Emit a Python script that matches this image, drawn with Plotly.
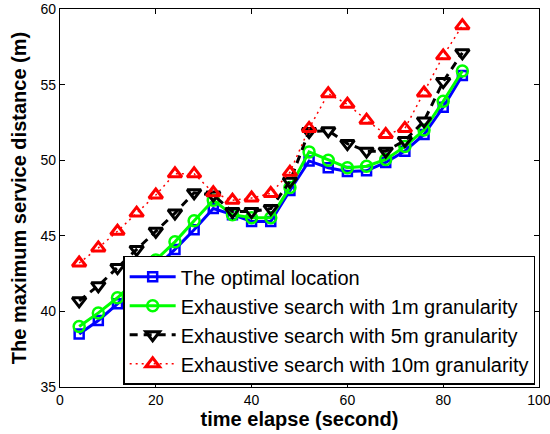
import plotly.graph_objects as go

x_time = [4, 8, 12, 16, 20, 24, 28, 32, 36, 40, 44, 48, 52, 56, 60, 64, 68, 72, 76, 80, 84]
optimal = [38.5, 39.4, 40.5, 41.7, 42.9, 44.1, 45.4, 46.8, 46.4, 45.95, 45.95, 48.0, 49.95, 49.5, 49.25, 49.3, 49.85, 50.6, 51.7, 53.5, 55.6]
search_1m = [39.0, 39.9, 40.9, 42.1, 43.4, 44.6, 46.0, 47.35, 46.4, 46.2, 46.2, 48.2, 50.55, 50.0, 49.5, 49.6, 50.05, 50.9, 52.0, 53.9, 55.9]
search_5m = [40.7, 41.7, 42.9, 44.1, 45.3, 46.5, 47.85, 47.7, 46.6, 46.6, 46.8, 48.6, 51.9, 51.95, 51.1, 50.6, 50.6, 51.3, 52.6, 55.2, 57.1]
search_10m = [43.2, 44.2, 45.3, 46.5, 47.7, 49.1, 49.1, 47.85, 47.35, 47.5, 47.8, 49.2, 52.1, 54.4, 53.7, 52.65, 51.7, 52.1, 54.45, 56.9, 58.9]

names = [
    "The optimal location",
    "Exhaustive search with 1m granularity",
    "Exhaustive search with 5m granularity",
    "Exhaustive search with 10m granularity",
]
x_ticks = [0, 20, 40, 60, 80, 100]
y_ticks = [35, 40, 45, 50, 55, 60]

fig = go.Figure()
fig.add_trace(go.Scatter(
    x=x_time, y=optimal, name=names[0], mode="lines+markers",
    line=dict(color="#0000ff", width=3),
    marker=dict(symbol="square-open", size=9, color="#0000ff", line=dict(width=2.5, color="#0000ff")),
))
fig.add_trace(go.Scatter(
    x=x_time, y=search_1m, name=names[1], mode="lines+markers",
    line=dict(color="#00ff00", width=3),
    marker=dict(symbol="circle-open", size=11, color="#00ff00", line=dict(width=2.5, color="#00ff00")),
))
fig.add_trace(go.Scatter(
    x=x_time, y=search_5m, name=names[2], mode="lines+markers",
    line=dict(color="#000000", width=3, dash="8px,6px"),
    marker=dict(symbol="triangle-down-open", size=12, color="#000000", line=dict(width=3, color="#000000")),
))
fig.add_trace(go.Scatter(
    x=x_time, y=search_10m, name=names[3], mode="lines+markers",
    line=dict(color="#ff0000", width=1.5, dash="2px,4px"),
    marker=dict(symbol="triangle-up-open", size=12, color="#ff0000", line=dict(width=3, color="#ff0000")),
))

axis_common = dict(
    showline=True, linecolor="black", linewidth=1.2, mirror="ticks",
    ticks="inside", ticklen=5, tickcolor="black", tickwidth=1,
    showgrid=False, zeroline=False, ticklabeloverflow="allow", automargin=False,
    tickfont=dict(family="Liberation Sans, Arial, sans-serif", size=14, color="black"),
)

fig.update_layout(
    width=550, height=434,
    margin=dict(l=60, r=11, t=9, b=47),
    paper_bgcolor="white", plot_bgcolor="white",
    font=dict(family="Liberation Sans, Arial, sans-serif", color="black"),
    xaxis=dict(range=[0, 100], tickvals=x_ticks,
               title=dict(text="<b>time elapse (second)</b>", font=dict(size=20), standoff=4),
               **axis_common),
    yaxis=dict(range=[35, 60], tickvals=y_ticks,
               title=dict(text="<b>The maximum service distance (m)</b>", font=dict(size=20), standoff=8),
               **axis_common),
    legend=dict(
        x=0.992, y=0.006, xanchor="right", yanchor="bottom",
        bgcolor="white", bordercolor="black", borderwidth=1.5,
        font=dict(size=20, color="black"),
        tracegroupgap=0, itemwidth=46,
    ),
    showlegend=True,
)

fig.write_html("out.html")
